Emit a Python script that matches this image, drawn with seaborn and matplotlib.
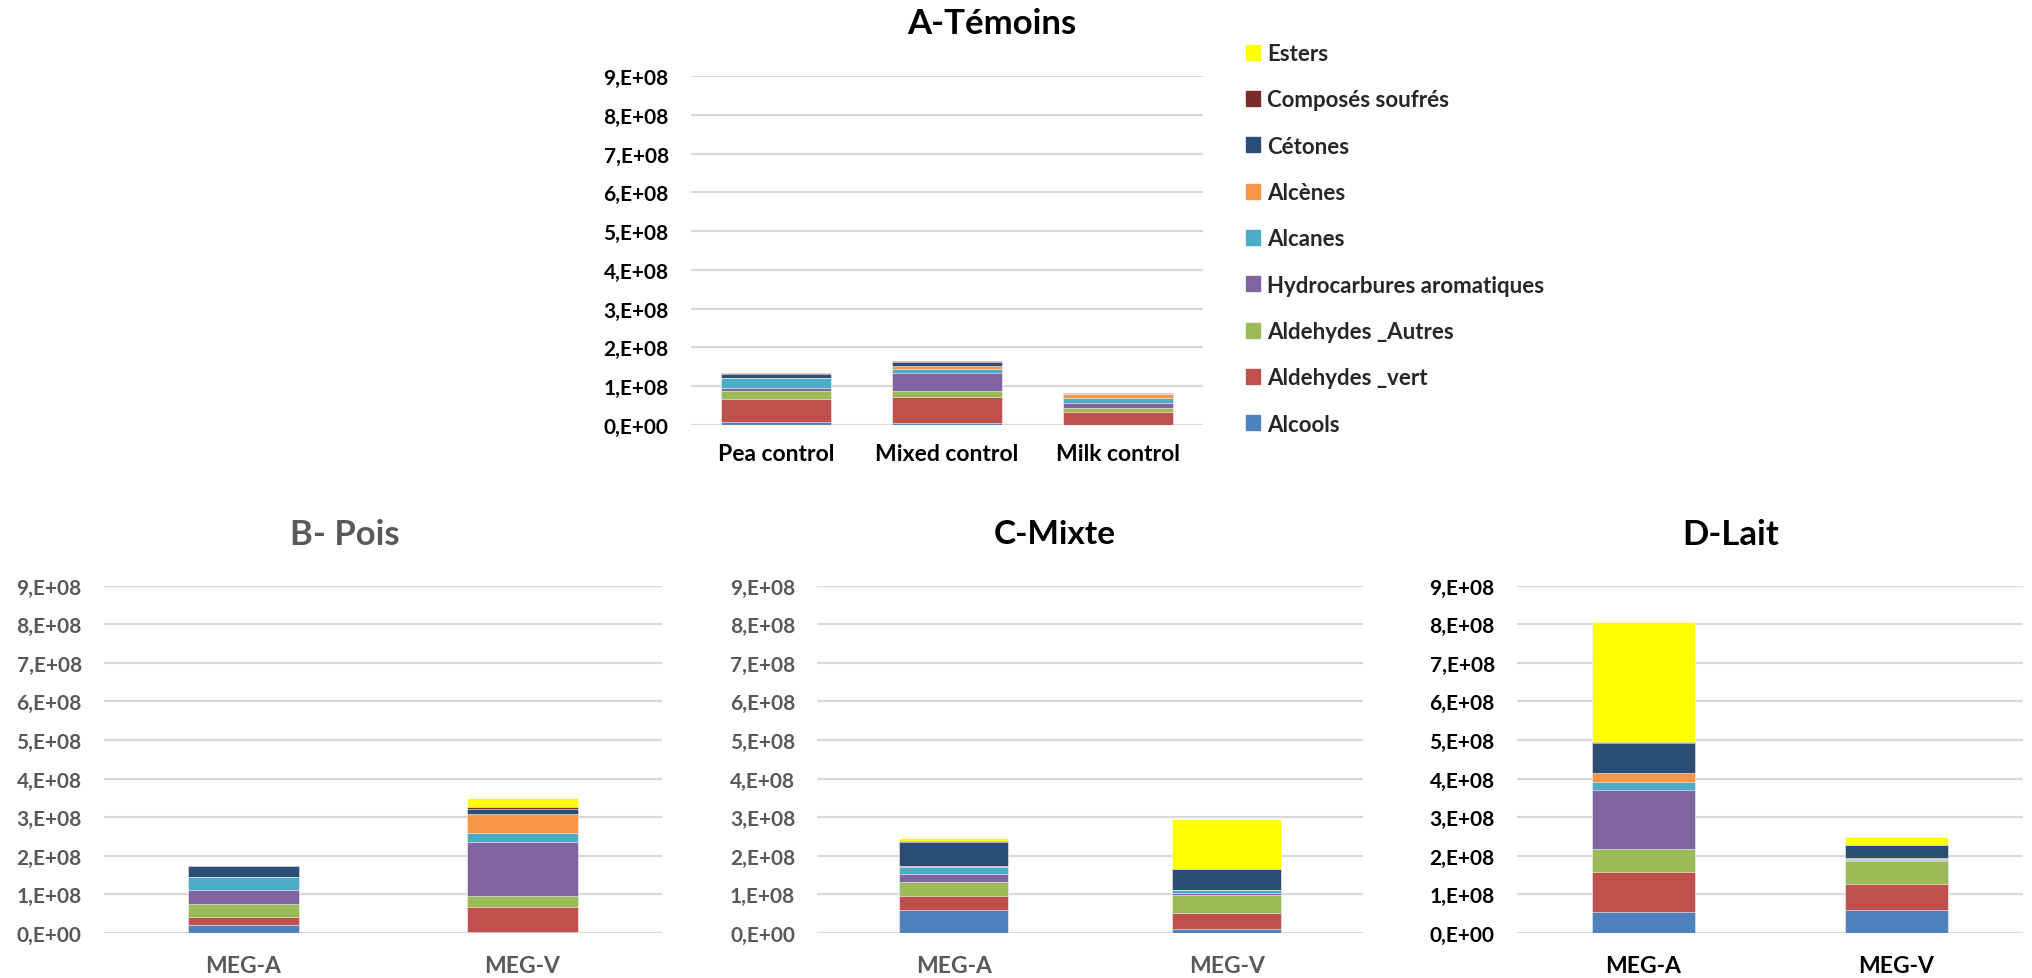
import matplotlib.pyplot as plt
import matplotlib.patches as mpatches
import seaborn as sns
import numpy as np
import pandas as pd

sns.set_style("white")
plt.rcParams['font.family'] = ['Lato', 'DejaVu Sans']
plt.rcParams['font.weight'] = 'bold'

compounds = ['Alcools', 'Aldehydes _vert', 'Aldehydes _Autres', 'Hydrocarbures aromatiques',
             'Alcanes', 'Alcènes', 'Cétones', 'Composés soufrés', 'Esters']
colors = ['#4F81BD', '#C0504D', '#9BBB59', '#8064A2', '#4BACC6',
          '#F79646', '#2C4D75', '#772C2A', '#FFFF00']

# peak areas in units of 1e7, one row per compound (same order as compounds)
temoins_groups = ['Pea control', 'Mixed control', 'Milk control']
temoins_values = [
    [0.8, 0.4, 0.1],
    [6.0, 6.7, 3.35],
    [2.0, 1.7, 0.95],
    [0.7, 4.7, 1.4],
    [2.5, 0.85, 1.2],
    [0.2, 0.85, 0.95],
    [1.0, 0.95, 0.15],
    [0.2, 0.35, 0.25],
    [0.0, 0.0, 0.0],
]

meg_groups = ['MEG-A', 'MEG-V']
pois_values = [
    [2.0, 0.2],
    [2.1, 6.55],
    [3.35, 2.9],
    [3.6, 14.0],
    [3.35, 2.3],
    [0.1, 4.8],
    [2.75, 1.4],
    [0.1, 0.5],
    [0.0, 2.25],
]
mixte_values = [
    [5.9, 1.0],
    [3.7, 4.3],
    [3.6, 4.6],
    [2.05, 0.5],
    [1.8, 0.7],
    [0.2, 0.1],
    [6.4, 5.25],
    [0.15, 0.1],
    [0.8, 13.0],
]
lait_values = [
    [5.4, 6.0],
    [10.5, 6.6],
    [5.85, 6.0],
    [15.4, 0.4],
    [1.9, 0.25],
    [2.5, 0.15],
    [7.7, 3.35],
    [0.3, 0.15],
    [31.0, 1.9],
]

ytick_values = [0, 1e8, 2e8, 3e8, 4e8, 5e8, 6e8, 7e8, 8e8, 9e8]
ytick_labels = ['0,E+00', '1,E+08', '2,E+08', '3,E+08', '4,E+08',
                '5,E+08', '6,E+08', '7,E+08', '8,E+08', '9,E+08']

W, H = 2033, 979
GREY = '#595959'


def px_axes(fig, x0, x1, y_top, y_bottom):
    return fig.add_axes([x0 / W, 1 - y_bottom / H, (x1 - x0) / W, (y_bottom - y_top) / H])


def draw_stacked(ax, groups, values, width, tick_color, xpad):
    data = pd.DataFrame(np.array(values).T * 1e7, columns=compounds)
    cum = data.cumsum(axis=1)
    # draw cumulative totals from the top series down so each layer covers the next
    for comp, col in reversed(list(zip(compounds, colors))):
        sns.barplot(x=groups, y=cum[comp].values, color=col, width=width, ax=ax,
                    saturation=1, errorbar=None, edgecolor='white', linewidth=0.4)
    ax.set_ylim(0, 9e8)
    ax.set_yticks(ytick_values)
    ax.set_yticklabels(ytick_labels)
    ax.yaxis.grid(True, color='#D9D9D9', linewidth=1.6)
    ax.set_axisbelow(True)
    sns.despine(ax=ax, left=True, bottom=True)
    ax.tick_params(axis='y', length=0, pad=16, labelsize=15, labelcolor=tick_color)
    ax.tick_params(axis='x', length=0, pad=xpad, labelsize=16.5, labelcolor=tick_color)
    ax.set_xlabel('')
    ax.set_ylabel('')


fig = plt.figure(figsize=(W / 100, H / 100), dpi=100)

ax_a = px_axes(fig, 691, 1203, 77, 426)
draw_stacked(ax_a, temoins_groups, temoins_values, 0.645, 'black', 13)

ax_b = px_axes(fig, 104, 662, 586.5, 934)
draw_stacked(ax_b, meg_groups, pois_values, 0.40, GREY, 16)

ax_c = px_axes(fig, 817.5, 1363, 586.5, 934)
draw_stacked(ax_c, meg_groups, mixte_values, 0.40, GREY, 16)

ax_d = px_axes(fig, 1517, 2023, 586.5, 934)
draw_stacked(ax_d, meg_groups, lait_values, 0.41, 'black', 16)

fig.text(992 / W, 1 - 24 / H, 'A-Témoins', ha='center', va='center', fontsize=25, color='black')
fig.text(345 / W, 1 - 535 / H, 'B- Pois', ha='center', va='center', fontsize=25, color=GREY)
fig.text(1055 / W, 1 - 535 / H, 'C-Mixte', ha='center', va='center', fontsize=24, color='black')
fig.text(1731 / W, 1 - 535 / H, 'D-Lait', ha='center', va='center', fontsize=25, color='black')

handles = [mpatches.Patch(color=c, label=n) for n, c in zip(compounds, colors)][::-1]
fig.legend(handles=handles, loc='upper left', bbox_to_anchor=(1246 / W, 1 - 44 / H),
           frameon=False, fontsize=16, labelspacing=1.14, handlelength=0.65,
           handleheight=0.65, handletextpad=0.3, borderaxespad=0, borderpad=0)

plt.savefig('out.png', dpi=100)
